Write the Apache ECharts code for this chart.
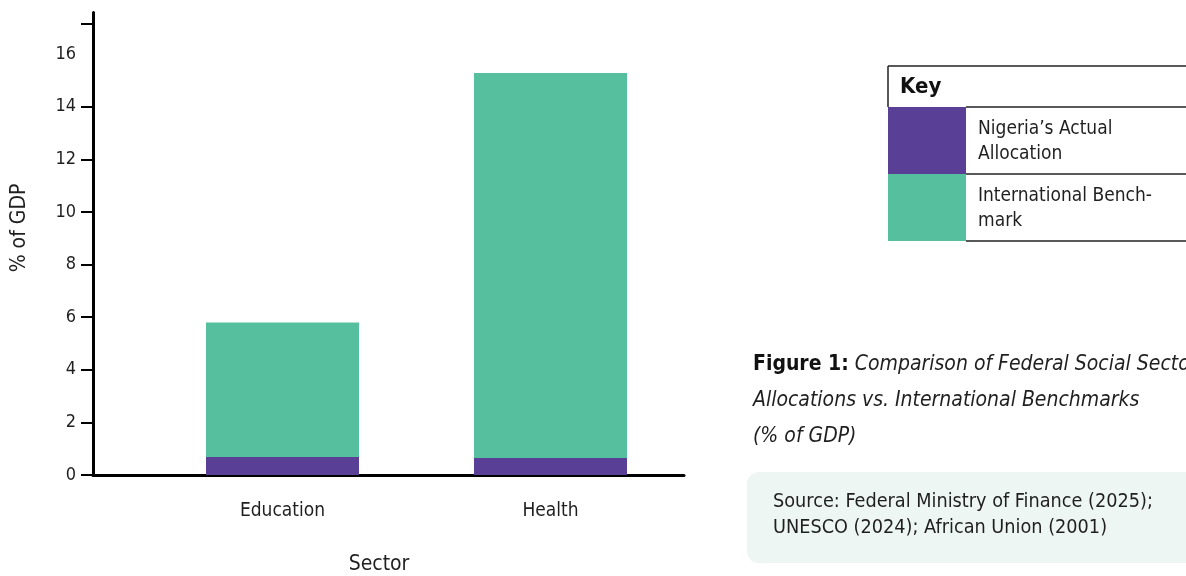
<!DOCTYPE html>
<html>
<head>
<meta charset="utf-8">
<script src="https://cdn.jsdelivr.net/npm/echarts@6/dist/echarts.min.js"></script>
<style>
  html, body { margin: 0; padding: 0; background: #ffffff; }
  #chart { width: 1186px; height: 576px; }
</style>
</head>
<body>
<div id="chart"></div>
<script>
// Sectors and allocations, % of GDP
const sectors = ['Education', 'Health'];
const nigeriaActual = [0.68, 0.65];
const internationalBenchmark = [5.8, 15.28];

// Value-axis tick labels and tick marks
const yLabelValues = [0, 2, 4, 6, 8, 10, 12, 14, 16];
const yTickValues = [0, 2, 4, 6, 8, 10, 12, 14, 17.17];
const yMax = 17.58;

// Texts around the plot
const yAxisTitle = '% of GDP';
const xAxisTitle = 'Sector';
const keyTitle = 'Key';
const keyEntries = [
  { lines: ['Nigeria\u2019s Actual', 'Allocation'], color: '#5a3f97' },
  { lines: ['International Bench-', 'mark'], color: '#56bf9d' }
];
const captionLines = [
  ['Figure 1:', ' Comparison of Federal Social Sector'],
  ['', 'Allocations vs. International Benchmarks'],
  ['', '(% of GDP)']
];
const sourceLines = [
  'Source: Federal Ministry of Finance (2025);',
  'UNESCO (2024); African Union (2001)'
];

const FONT = "'Liberation Sans Narrow', 'DejaVu Sans Condensed', 'Roboto Condensed', 'Liberation Sans', sans-serif";
const INK = '#1f1f1f';

const chart = echarts.init(document.getElementById('chart'), null, { renderer: 'canvas' });

// Key table
const keyX = 888, keyRight = 1190, keyTop = 66, keyHeaderH = 41, keyRowH = 67, swatchW = 78;
const keyGraphics = [
  { type: 'line', shape: { x1: keyX, y1: keyTop, x2: keyRight, y2: keyTop }, style: { stroke: '#222', lineWidth: 1.5 } },
  { type: 'line', shape: { x1: keyX, y1: keyTop, x2: keyX, y2: keyTop + keyHeaderH }, style: { stroke: '#222', lineWidth: 1.5 } },
  { type: 'text', x: 900, y: keyTop + keyHeaderH / 2 + 1, style: { text: keyTitle, font: "bold 22px " + FONT, fill: '#111', verticalAlign: 'middle' } }
];
keyEntries.forEach((e, i) => {
  const top = keyTop + keyHeaderH + i * keyRowH;
  keyGraphics.push({ type: 'rect', shape: { x: keyX, y: top, width: swatchW, height: keyRowH }, style: { fill: e.color } });
  keyGraphics.push({ type: 'line', shape: { x1: keyX + swatchW, y1: top, x2: keyRight, y2: top }, style: { stroke: '#222', lineWidth: 1.5 } });
  keyGraphics.push({
    type: 'text', x: 978, y: top + keyRowH / 2 + 1,
    style: { text: e.lines.join('\n'), font: "19px " + FONT, fill: INK, verticalAlign: 'middle', lineHeight: 25 }
  });
});
const keyBottom = keyTop + keyHeaderH + keyEntries.length * keyRowH;
keyGraphics.push({ type: 'line', shape: { x1: keyX + swatchW, y1: keyBottom, x2: keyRight, y2: keyBottom }, style: { stroke: '#222', lineWidth: 1.5 } });

// Caption
const captionGraphics = captionLines.map((l, i) => ({
  type: 'text', x: 753, y: 365 + i * 36,
  style: {
    text: (l[0] ? '{b|' + l[0] + '}' : '') + '{i|' + l[1] + '}',
    verticalAlign: 'middle',
    rich: {
      b: { font: "bold 21px " + FONT, fill: '#111' },
      i: { font: "italic 21px " + FONT, fill: INK }
    }
  }
}));

// Source box
const sourceGraphics = [
  { type: 'rect', shape: { x: 747, y: 472, width: 470, height: 91, r: 12 }, style: { fill: '#edf6f2' } },
  { type: 'text', x: 773, y: 515, style: { text: sourceLines.join('\n'), font: "19.7px " + FONT, fill: INK, verticalAlign: 'middle', lineHeight: 26 } }
];

// Axis titles
const titleGraphics = [
  { type: 'text', x: 20, y: 228, rotation: Math.PI / 2, style: { text: yAxisTitle, font: "21px " + FONT, fill: INK, align: 'center', verticalAlign: 'middle' } },
  { type: 'text', x: 379, y: 565, style: { text: xAxisTitle, font: "21px " + FONT, fill: INK, align: 'center', verticalAlign: 'middle' } }
];

const gridTop = 12.5, gridBottom = 576 - 475;

chart.setOption({
  animation: false,
  backgroundColor: '#ffffff',
  grid: [
    { left: 93, right: 1186 - 684, top: gridTop, bottom: gridBottom },
    { left: 148.5, right: 1186 - 684.5, top: gridTop, bottom: gridBottom }
  ],
  xAxis: [
    {
      gridIndex: 0, type: 'value', min: 0, max: 1,
      axisLine: { show: true, onZero: false, lineStyle: { color: '#000', width: 3 } },
      axisTick: { show: false }, axisLabel: { show: false }, splitLine: { show: false }
    },
    {
      gridIndex: 1, type: 'category', data: sectors,
      axisLine: { show: false }, axisTick: { show: false }, splitLine: { show: false },
      axisLabel: { margin: 27, fontFamily: FONT, fontSize: 19, color: INK }
    }
  ],
  yAxis: [
    {
      gridIndex: 0, type: 'value', min: 0, max: yMax,
      axisLine: { show: true, onZero: false, lineStyle: { color: '#000', width: 3 } },
      axisTick: { show: true, length: 12, customValues: yTickValues, lineStyle: { color: '#000', width: 2 } },
      axisLabel: { margin: 17, customValues: yLabelValues, fontFamily: FONT, fontSize: 18, color: INK },
      splitLine: { show: false }
    },
    { gridIndex: 1, type: 'value', min: 0, max: yMax, show: false, splitLine: { show: false } }
  ],
  series: [
    {
      name: 'International Benchmark', type: 'bar', xAxisIndex: 1, yAxisIndex: 1,
      data: internationalBenchmark, barWidth: 153, itemStyle: { color: keyEntries[1].color }, z: 1
    },
    {
      name: 'Nigeria\u2019s Actual Allocation', type: 'bar', xAxisIndex: 1, yAxisIndex: 1,
      data: nigeriaActual, barWidth: 153, barGap: '-100%', itemStyle: { color: keyEntries[0].color }, z: 2
    }
  ],
  graphic: [].concat(keyGraphics, captionGraphics, sourceGraphics, titleGraphics)
});
</script>
</body>
</html>
